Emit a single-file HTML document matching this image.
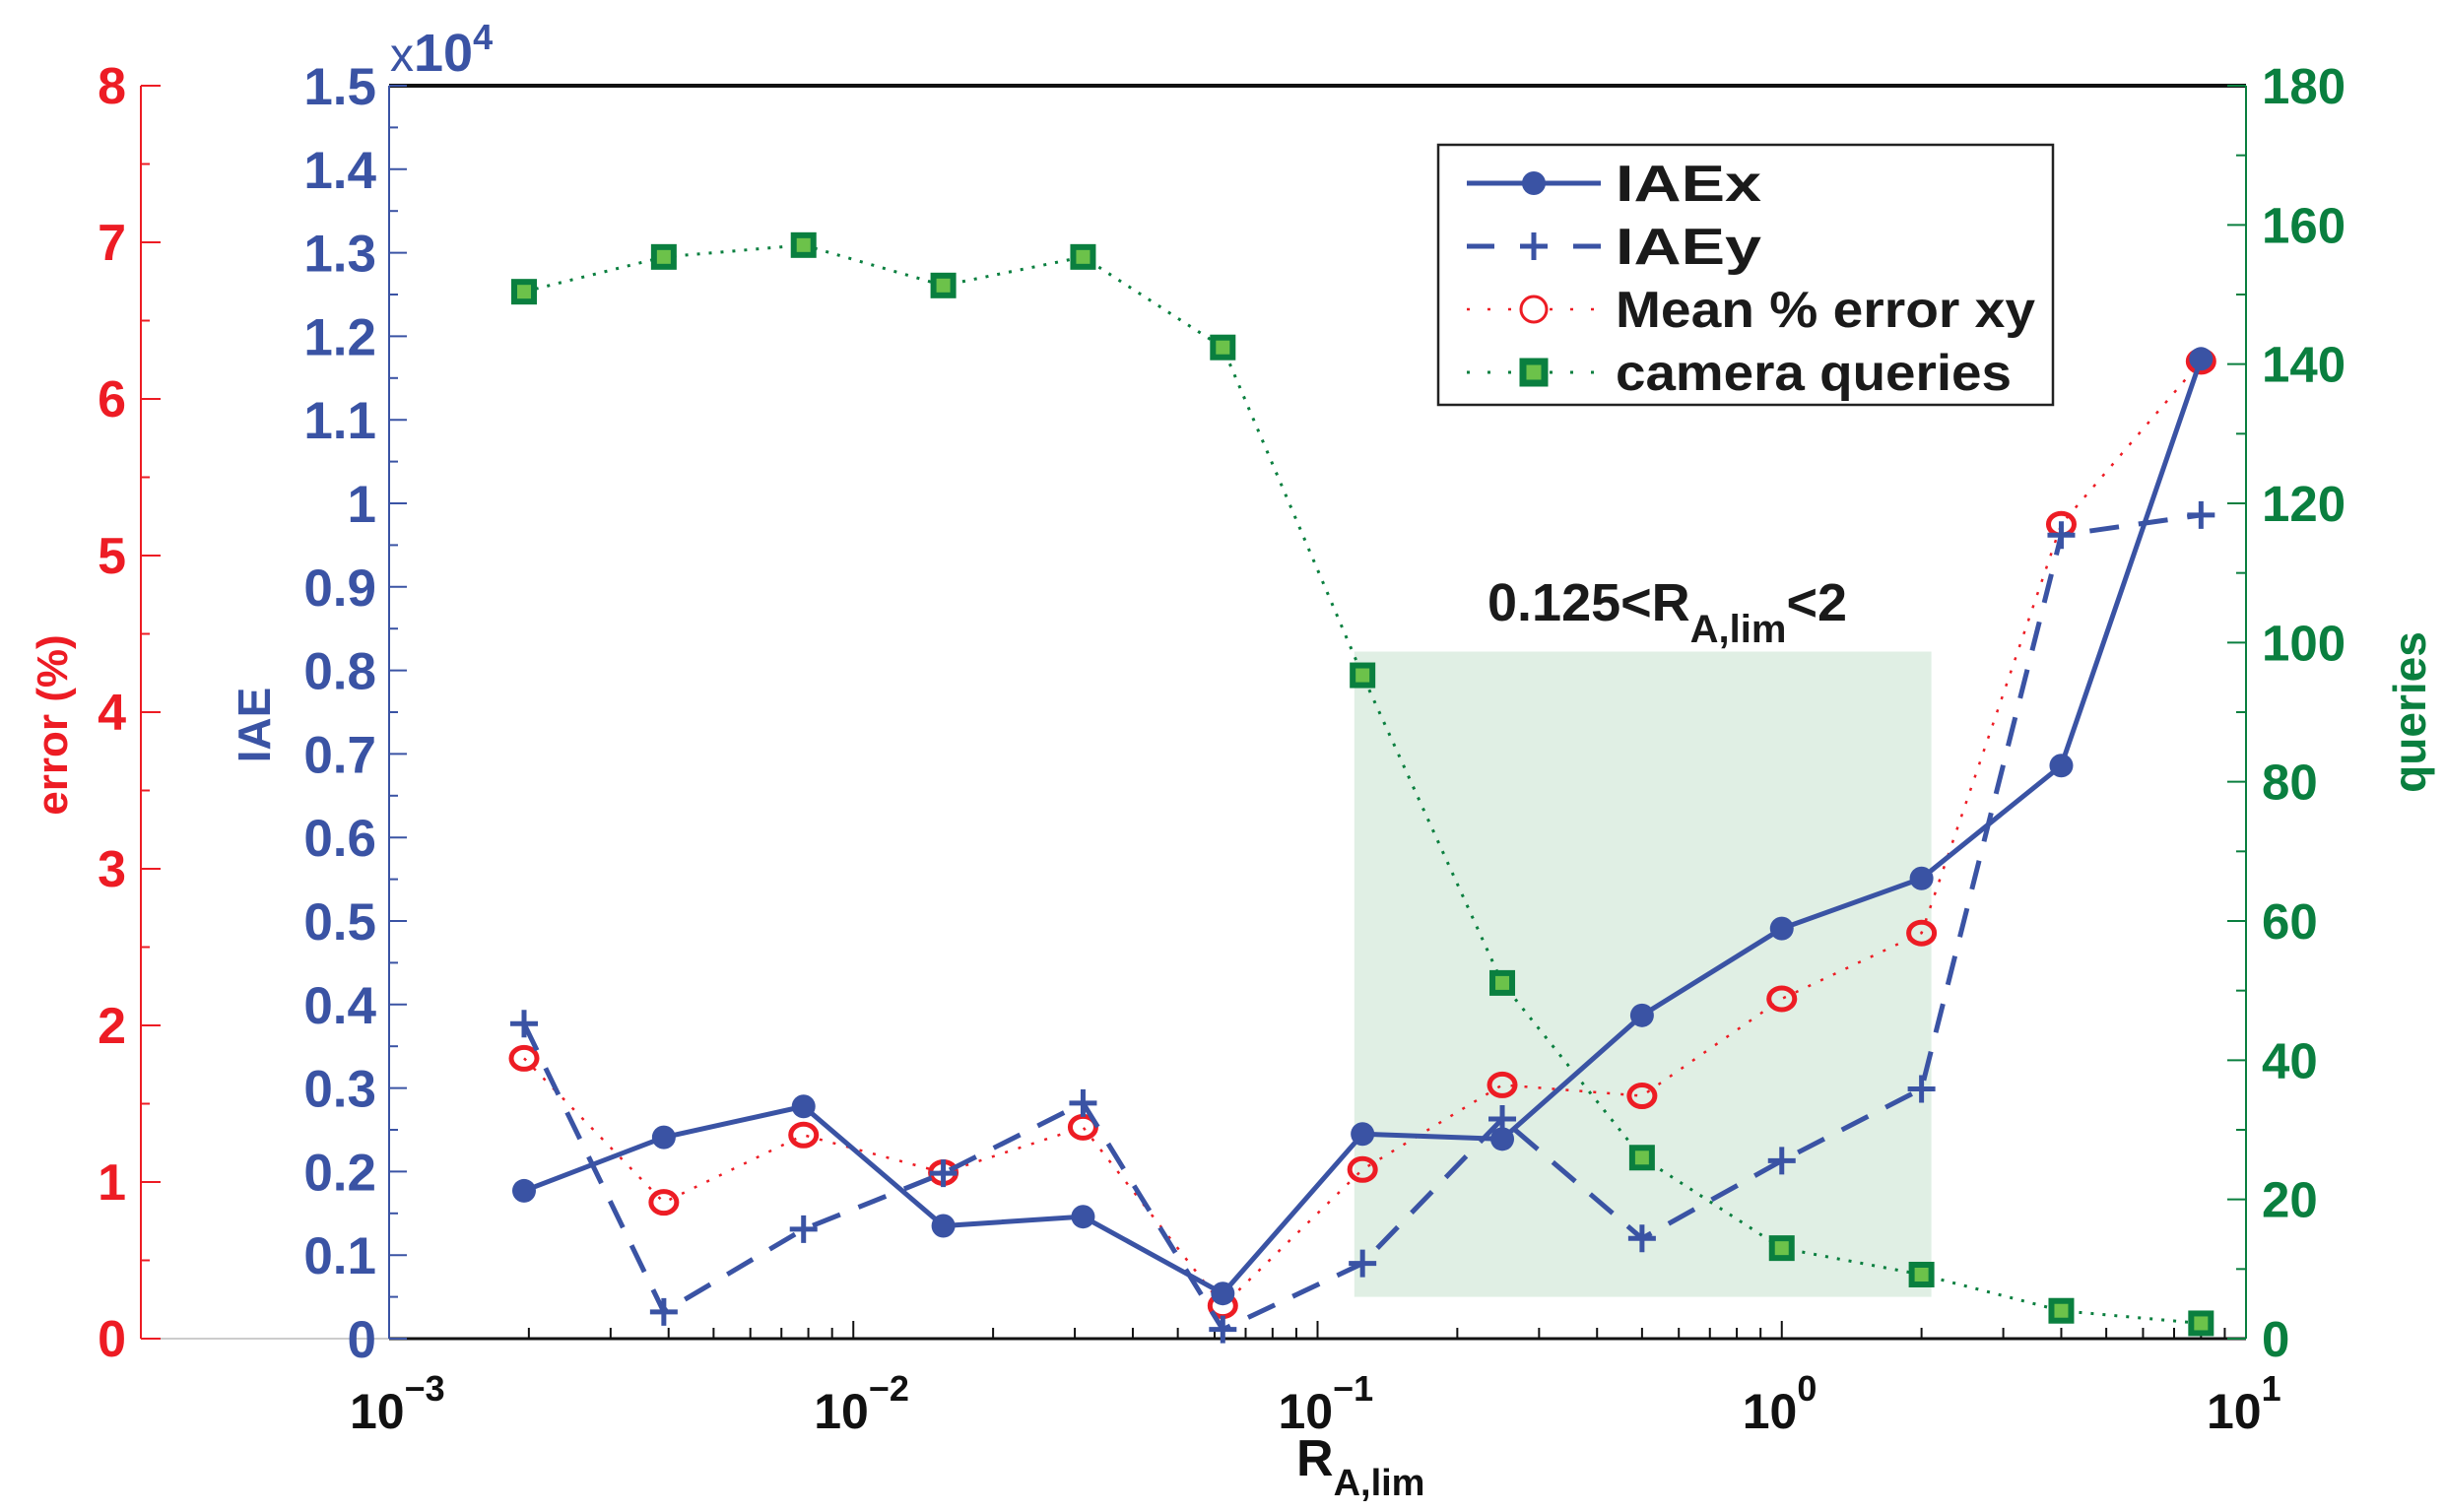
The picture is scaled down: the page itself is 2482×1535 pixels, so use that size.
<!DOCTYPE html>
<html><head><meta charset="utf-8"><style>
html,body{margin:0;padding:0;background:#fff;}
svg{display:block;font-family:"Liberation Sans",sans-serif;font-weight:bold;}
</style></head><body>
<svg id="chart" width="2482" height="1535" viewBox="0 0 2482 1535" xmlns="http://www.w3.org/2000/svg"></svg>
<script>
const categories=[0.001953125,0.00390625,0.0078125,0.015625,0.03125,0.0625,0.125,0.25,0.5,1,2,4,8];
const iaex=[0.177,0.241,0.278,0.135,0.146,0.054,0.245,0.239,0.387,0.491,0.551,0.686,1.173];
const iaey=[0.377,0.032,0.131,0.198,0.282,0.011,0.09,0.263,0.12,0.213,0.299,0.962,0.986];
const errPct=[1.79,0.87,1.30,1.06,1.35,0.21,1.08,1.62,1.55,2.17,2.59,5.20,6.24];
const queries=[150.4,155.4,157.1,151.3,155.4,142.4,95.3,51.1,26.0,13.0,9.2,4.0,2.2];
const iaeTicks=["0","0.1","0.2","0.3","0.4","0.5","0.6","0.7","0.8","0.9","1","1.1","1.2","1.3","1.4","1.5"];
const errTicks=["0","1","2","3","4","5","6","7","8"];
const qTicks=["0","20","40","60","80","100","120","140","160","180"];
const xExps=[-3,-2,-1,0,1];
const shadeRange=[0.12,2.1];

const X0=395,X1=2280,YT=87,YB=1359;
const BLUE="#3a53a4",RED="#ed1c24",GREEN="#0a7f3f";
const xs=v=>X0+(Math.log10(v)+3)/4*(X1-X0);
const yIAE=v=>YB-v/1.5*(YB-YT);
const yErr=v=>YB-v/8*(YB-YT);
const yQ=v=>YB-v/180*(YB-YT);
const svg=document.getElementById('chart');
const NS="http://www.w3.org/2000/svg";
function mk(tag,attrs,parent){const e=document.createElementNS(NS,tag);for(const k in attrs)e.setAttribute(k,attrs[k]);(parent||svg).appendChild(e);return e;}
function txt(s,attrs,parent){const e=mk('text',attrs,parent);e.textContent=s;return e;}

let sh=mk('rect',{x:xs(shadeRange[0]),y:yQ(98.7),width:xs(shadeRange[1])-xs(shadeRange[0]),height:yQ(6)-yQ(98.7),fill:"#e0efe4"});


let ann=txt('',{x:1510,y:630,'font-size':54,fill:'#1a1a1a'});


ann.innerHTML='0.125&lt;R<tspan font-size="40" dy="22">A,lim</tspan><tspan dy="-22">&lt;2</tspan>';

mk('line',{x1:X0,y1:YT,x2:X1,y2:YT,stroke:'#111','stroke-width':4});
let xa=mk('line',{x1:X0,y1:YB,x2:X1,y2:YB,stroke:'#111','stroke-width':3});


mk('line',{x1:143,y1:YB,x2:X0,y2:YB,stroke:'#ccc','stroke-width':2});
for(let e=-3;e<1;e++){for(let m=1;m<10;m++){const x=xs(m*Math.pow(10,e));const l=m===1?18:11;mk('line',{x1:x,y1:YB,x2:x,y2:YB-l,stroke:'#111','stroke-width':2});}}
xExps.forEach(e=>{const x=xs(Math.pow(10,e));
 let t=txt('',{x:x-40,y:1450,'font-size':50,fill:'#111'});
 
 
 t.innerHTML='10<tspan font-size="36" dy="-28">'+(e<0?'\u2212'+(-e):e)+'</tspan>';});
let xl=txt('',{x:1316,y:1498,'font-size':52,fill:'#111'});


xl.innerHTML='R<tspan font-size="38" dy="20">A,lim</tspan>';

mk('line',{x1:X0,y1:YT,x2:X0,y2:YB,stroke:BLUE,'stroke-width':2});
iaeTicks.forEach((s,i)=>{const y=yIAE(i*0.1);mk('line',{x1:X0,y1:y,x2:X0+18,y2:y,stroke:BLUE,'stroke-width':2});
 if(i<15){const ym=yIAE(i*0.1+0.05);mk('line',{x1:X0,y1:ym,x2:X0+9,y2:ym,stroke:BLUE,'stroke-width':2});}
 let t=txt(s,{x:382,y:y+19,'font-size':53,fill:BLUE,'text-anchor':'end'});
 
 });
let ex=txt('',{x:396,y:72,'font-size':48,fill:BLUE,'font-weight':'normal'});


ex.innerHTML='x<tspan font-weight="bold" font-size="54">10</tspan><tspan font-size="36" dy="-22" font-weight="bold">4</tspan>';
let yl=txt('IAE',{x:0,y:0,'font-size':46,fill:BLUE,'text-anchor':'middle',transform:'translate(274,736) rotate(-90)'});



mk('line',{x1:143,y1:YT,x2:143,y2:YB,stroke:RED,'stroke-width':2});
errTicks.forEach((s,i)=>{const y=yErr(i);mk('line',{x1:143,y1:y,x2:163,y2:y,stroke:RED,'stroke-width':2});
 if(i<8){const ym=yErr(i+0.5);mk('line',{x1:143,y1:ym,x2:152,y2:ym,stroke:RED,'stroke-width':2});}
 let t=txt(s,{x:128,y:y+18,'font-size':52,fill:RED,'text-anchor':'end'});
 
 });
let rl=txt('error (%)',{x:0,y:0,'font-size':44,fill:RED,'text-anchor':'middle',transform:'translate(68,736) rotate(-90)'});



mk('line',{x1:X1,y1:YT,x2:X1,y2:YB,stroke:GREEN,'stroke-width':2});
qTicks.forEach((s,i)=>{const y=yQ(i*20);mk('line',{x1:X1,y1:y,x2:X1-19,y2:y,stroke:GREEN,'stroke-width':2});
 if(i<9){const ym=yQ(i*20+10);mk('line',{x1:X1,y1:ym,x2:X1-10,y2:ym,stroke:GREEN,'stroke-width':2});}
 let t=txt(s,{x:2296,y:y+18,'font-size':51,fill:GREEN});
 
 });
let gl=txt('queries',{x:0,y:0,'font-size':46,fill:GREEN,'text-anchor':'middle',transform:'translate(2462,723) rotate(-90)'});



function pts(arr,yf){return arr.map((v,i)=>xs(categories[i])+','+yf(v)).join(' ');}
let gq=mk('g',{});


mk('polyline',{points:pts(queries,yQ),fill:'none',stroke:GREEN,'stroke-width':3,'stroke-dasharray':'3 9'},gq);
queries.forEach((v,i)=>{let r=mk('rect',{x:xs(categories[i])-10,y:yQ(v)-10,width:20,height:20,fill:'#6cc24a',stroke:GREEN,'stroke-width':6},gq);
 
 });
let ge=mk('g',{});


mk('polyline',{points:pts(errPct,yErr),fill:'none',stroke:RED,'stroke-width':2.5,'stroke-dasharray':'3 11'},ge);
errPct.forEach((v,i)=>{let c=mk('ellipse',{cx:xs(categories[i]),cy:yErr(v),rx:13,ry:11,fill:'none',stroke:RED,'stroke-width':5},ge);
 
 });
let gy=mk('g',{});


mk('polyline',{points:pts(iaey,yIAE),fill:'none',stroke:BLUE,'stroke-width':5,'stroke-dasharray':'30 20'},gy);
iaey.forEach((v,i)=>{const x=xs(categories[i]),y=yIAE(v);let p=mk('path',{d:`M${x-14},${y}H${x+14}M${x},${y-14}V${y+14}`,stroke:BLUE,'stroke-width':5},gy);
 
 });
let gx=mk('g',{});


mk('polyline',{points:pts(iaex,yIAE),fill:'none',stroke:BLUE,'stroke-width':5},gx);
iaex.forEach((v,i)=>{let c=mk('circle',{cx:xs(categories[i]),cy:yIAE(v),r:12,fill:BLUE},gx);
 
 });

let lg=mk('g',{transform:'translate(-15,0)'});


mk('rect',{x:1475,y:147,width:624,height:264,fill:'#fff',stroke:'#222','stroke-width':2.5},lg);
const ly=[186,250,314,378];
const labels=['IAEx','IAEy','Mean % error xy','camera queries'];
const LX=1504,LX2=1640,LM=1572;
mk('line',{x1:LX,y1:ly[0],x2:LX2,y2:ly[0],stroke:BLUE,'stroke-width':5},lg);
mk('circle',{cx:LM,cy:ly[0],r:12,fill:BLUE},lg);
mk('line',{x1:LX,y1:ly[1],x2:LX2,y2:ly[1],stroke:BLUE,'stroke-width':5,'stroke-dasharray':'28 26'},lg);
mk('path',{d:`M${LM-14},${ly[1]}H${LM+14}M${LM},${ly[1]-14}V${ly[1]+14}`,stroke:BLUE,'stroke-width':5},lg);
mk('line',{x1:LX,y1:ly[2],x2:LX2,y2:ly[2],stroke:RED,'stroke-width':2.5,'stroke-dasharray':'3 18'},lg);
mk('circle',{cx:LM,cy:ly[2],r:13,fill:'#fff',stroke:RED,'stroke-width':3},lg);
mk('line',{x1:LX,y1:ly[3],x2:LX2,y2:ly[3],stroke:GREEN,'stroke-width':3,'stroke-dasharray':'3 18'},lg);
mk('rect',{x:LM-11,y:ly[3]-11,width:22,height:22,fill:'#6cc24a',stroke:GREEN,'stroke-width':7},lg);
labels.forEach((s,i)=>{let t=txt(s,{x:1655,y:ly[i]+18,'font-size':52,fill:'#1a1a1a',textLength:[148,148,426,402][i],lengthAdjust:'spacingAndGlyphs'},lg);
 
 });
</script>
</body></html>
